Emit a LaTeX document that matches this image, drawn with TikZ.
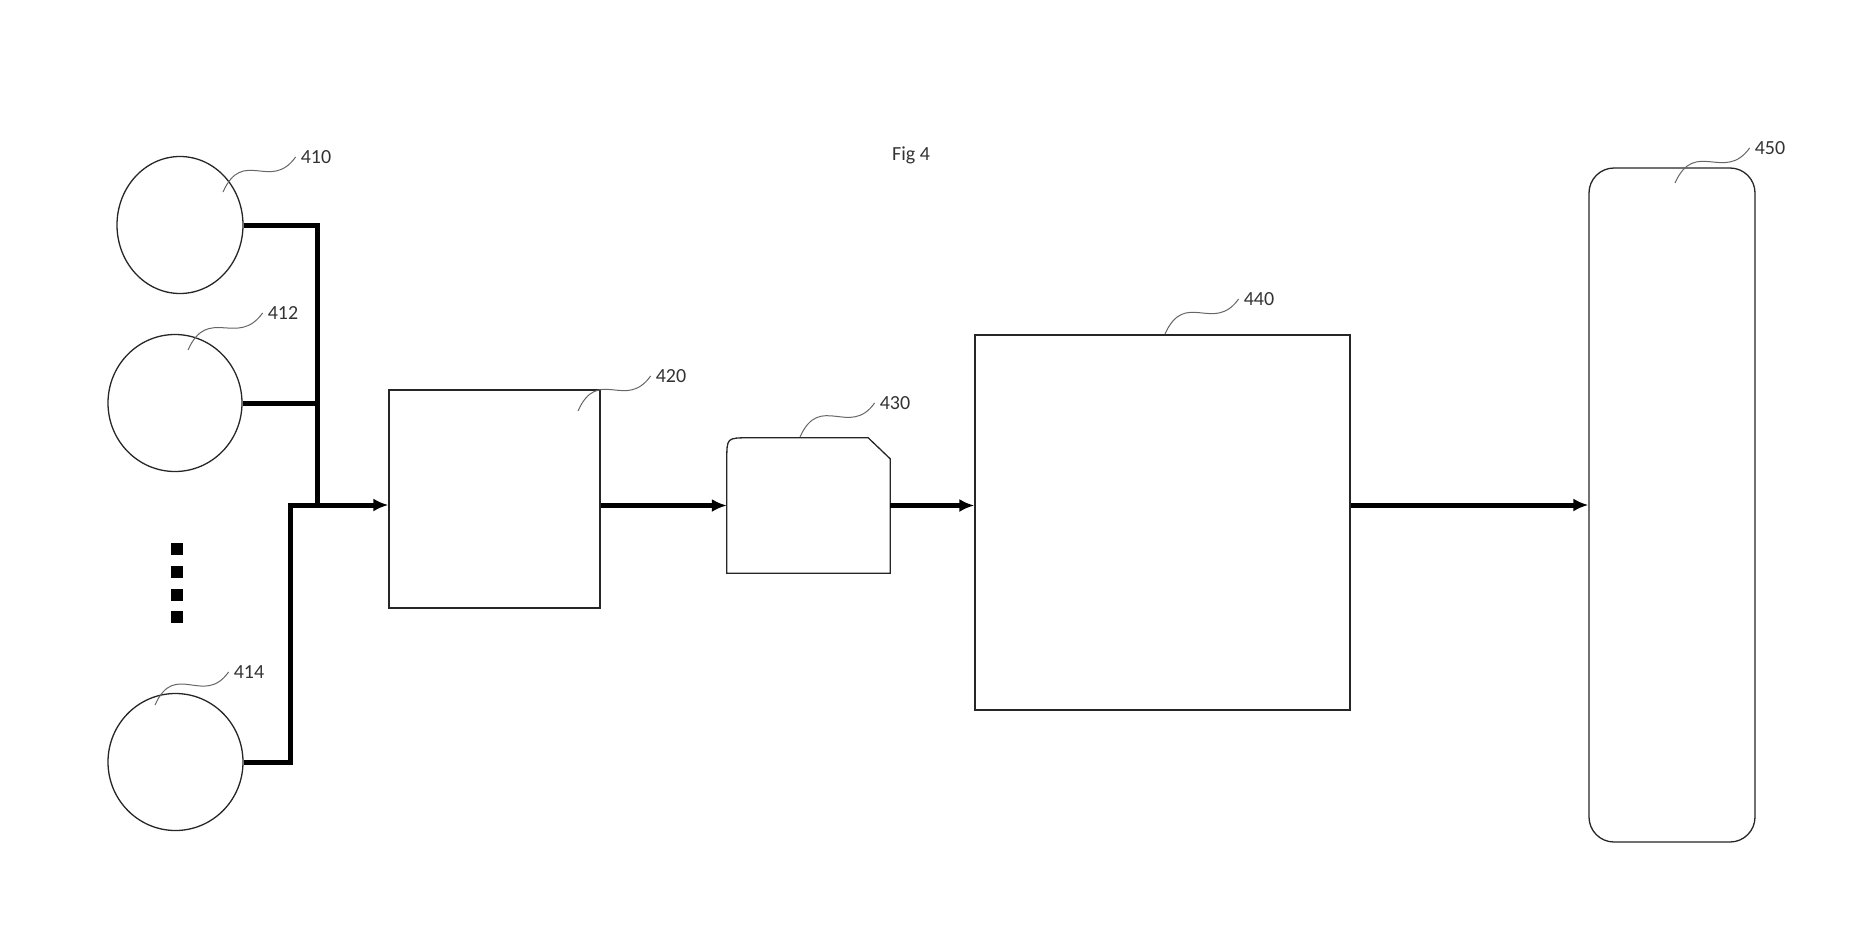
\documentclass[tikz,border=0pt]{standalone}
\usepackage{fontspec}
\setmainfont{Carlito}
\usetikzlibrary{calc,arrows.meta,shapes.geometric}
\begin{document}
\begin{tikzpicture}[x=1pt,y=-1pt,
  outl/.style={draw=black!85, line width=1.3pt, fill=white},
  circ/.style={outl, ellipse, inner sep=0pt},
  boxn/.style={outl, rectangle, inner sep=0pt},
  bus/.style={line width=5pt, black, line join=miter},
  arr/.style={bus, -{Latex[length=15pt,width=13pt]}},
  lead/.style={draw=black!60, line width=1pt},
  lbl/.style={font=\fontsize{20}{24}\selectfont, text=black!80, inner sep=5pt},
  sq/.style={fill=black, minimum size=12pt, inner sep=0pt}]
\useasboundingbox (0,0) rectangle (1868,948);

% circles
\node[circ, minimum width=126pt, minimum height=137pt] (c410) at (180,225) {};
\node[circ, minimum width=134pt, minimum height=137pt] (c412) at (175,403) {};
\node[circ, minimum width=135pt, minimum height=137pt] (c414) at (175.5,762) {};

% dots
\node[sq] (d1) at (177,549) {};
\node[sq] (d2) at (177,572) {};
\node[sq] (d3) at (177,595) {};
\node[sq] (d4) at (177,617) {};

% boxes
\node[boxn, minimum width=211pt, minimum height=218pt] (b420) at (494.5,499) {};
\node[draw=none, minimum width=163pt, minimum height=135pt, inner sep=0pt] (b430) at (808.5,505.5) {};
\draw[outl] (b430.south west) -- ($(b430.north west)+(0,22)$)
  .. controls (b430.north west) .. ($(b430.north west)+(22,0)$)
  -- ($(b430.north east)+(-22,0)$) -- ($(b430.north east)+(0,21)$)
  -- (b430.south east) -- cycle;
\node[boxn, minimum width=375pt, minimum height=375pt] (b440) at (1162.5,522.5) {};
\node[boxn, rounded corners=25pt, minimum width=166pt, minimum height=674pt] (b450) at (1672,505) {};

% connectors
\coordinate (j1) at (317,505);
\coordinate (j2) at (290,505);
\draw[bus] (c410.east) -| (j1);
\draw[bus] (c412.east) -- (c412.east -| j1);
\draw[arr] (c414.east) -| (j2) -- (b420.west |- j2);
\draw[arr] (b420.east |- b430.west) -- (b430.west);
\draw[arr] (b430.east) -- (b440.west |- b430.east);
\draw[arr] (b440.east |- b450.west) -- (b450.west);

% labels
\node[lbl] (fig) at (911,155) {Fig 4};
\node[lbl] (l410) at (316,157) {410};
\node[lbl] (l412) at (283,313) {412};
\node[lbl] (l414) at (249,672) {414};
\node[lbl] (l420) at (671,376) {420};
\node[lbl] (l430) at (895,403) {430};
\node[lbl] (l440) at (1259,299) {440};
\node[lbl] (l450) at (1770,148) {450};

\coordinate (e410) at (223,192);
\coordinate (e412) at (188,350);
\coordinate (e414) at (155,705);
\coordinate (e420) at (578,411);
\coordinate (e430) at (800,437);
\coordinate (e440) at (1165,334);
\coordinate (e450) at (1675,183);
\foreach \n in {410,412,414,420,430,440,450}{
  \draw[lead] (e\n) .. controls +(20,-45) and +(-25,35) .. (l\n.west);
}
\end{tikzpicture}
\end{document}
